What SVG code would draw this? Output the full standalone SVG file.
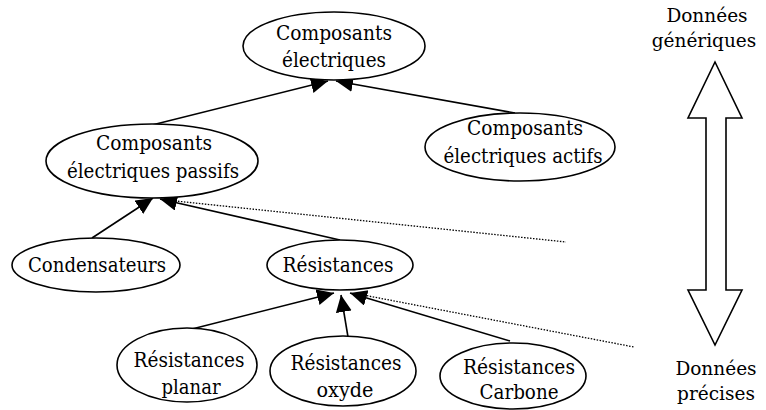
<svg xmlns="http://www.w3.org/2000/svg" width="766" height="410" viewBox="0 0 766 410">
<style>
.n{fill:#fff;stroke:#000;stroke-width:1.6}
.c{stroke:#000;stroke-width:1.6;fill:none}
.d{stroke:#000;stroke-width:1.3;fill:none;stroke-dasharray:1.5 1.5}
.t{font-family:'DejaVu Serif','Liberation Serif',serif;font-size:20px;text-anchor:middle;fill:#000}
.s{font-size:18.5px}
</style>
<defs>
<marker id="ah" markerUnits="userSpaceOnUse" markerWidth="20" markerHeight="18" refX="17" refY="8" orient="auto">
<path d="M0,0 L17,8 L0,16 Z" fill="#000"/>
</marker>
</defs>
<g id="connectors">
<line class="c" x1="152" y1="125" x2="328" y2="81" marker-end="url(#ah)"/>
<line class="c" x1="515" y1="113" x2="336" y2="81" marker-end="url(#ah)"/>
<line class="c" x1="92" y1="238" x2="153" y2="198" marker-end="url(#ah)"/>
<line class="c" x1="340" y1="240" x2="160" y2="199" marker-end="url(#ah)"/>
<line class="d" x1="166" y1="200" x2="566" y2="242"/>
<line class="c" x1="192" y1="329" x2="334" y2="293" marker-end="url(#ah)"/>
<line class="c" x1="348" y1="337" x2="341" y2="295" marker-end="url(#ah)"/>
<line class="c" x1="510" y1="341" x2="350" y2="293" marker-end="url(#ah)"/>
<line class="d" x1="358" y1="294" x2="634" y2="347"/>
</g>
<g id="n-electriques">
<ellipse class="n" cx="334" cy="46" rx="91" ry="34"/>
<text class="t" x="334" y="40" textLength="116" lengthAdjust="spacingAndGlyphs">Composants</text>
<text class="t" x="334" y="67" textLength="104" lengthAdjust="spacingAndGlyphs">électriques</text>
</g>
<g id="n-passifs">
<ellipse class="n" cx="152" cy="161" rx="106" ry="37"/>
<text class="t" x="154" y="150" textLength="116" lengthAdjust="spacingAndGlyphs">Composants</text>
<text class="t" x="153" y="178" textLength="172" lengthAdjust="spacingAndGlyphs">électriques passifs</text>
</g>
<g id="n-actifs">
<ellipse class="n" cx="520" cy="147" rx="95" ry="34"/>
<text class="t" x="525" y="135" textLength="116" lengthAdjust="spacingAndGlyphs">Composants</text>
<text class="t" x="523" y="163" textLength="159" lengthAdjust="spacingAndGlyphs">électriques actifs</text>
</g>
<g id="n-condensateurs">
<ellipse class="n" cx="96" cy="265" rx="84" ry="27"/>
<text class="t" x="97" y="272" textLength="138" lengthAdjust="spacingAndGlyphs">Condensateurs</text>
</g>
<g id="n-resistances">
<ellipse class="n" cx="340" cy="265" rx="73" ry="25"/>
<text class="t" x="338" y="272" textLength="111" lengthAdjust="spacingAndGlyphs">Résistances</text>
</g>
<g id="n-planar">
<ellipse class="n" cx="187" cy="365" rx="70" ry="37"/>
<text class="t" x="189" y="367" textLength="111" lengthAdjust="spacingAndGlyphs">Résistances</text>
<text class="t" x="191" y="394" textLength="59" lengthAdjust="spacingAndGlyphs">planar</text>
</g>
<g id="n-oxyde">
<ellipse class="n" cx="343" cy="371" rx="73" ry="35"/>
<text class="t" x="346" y="370" textLength="111" lengthAdjust="spacingAndGlyphs">Résistances</text>
<text class="t" x="345" y="397" textLength="57" lengthAdjust="spacingAndGlyphs">oxyde</text>
</g>
<g id="n-carbone">
<ellipse class="n" cx="513" cy="376" rx="73" ry="33"/>
<text class="t" x="519" y="374" textLength="112" lengthAdjust="spacingAndGlyphs">Résistances</text>
<text class="t" x="519" y="399" textLength="79" lengthAdjust="spacingAndGlyphs">Carbone</text>
</g>
<g id="scale">
<polygon class="n" points="715,62 742,118 726,118 726,290 742,290 715,345 688,290 706,290 706,118 688,118"/>
<text class="t s" x="707" y="22">Données</text>
<text class="t s" x="704" y="47">génériques</text>
<text class="t s" x="716" y="375">Données</text>
<text class="t s" x="716" y="400">précises</text>
</g>
</svg>
